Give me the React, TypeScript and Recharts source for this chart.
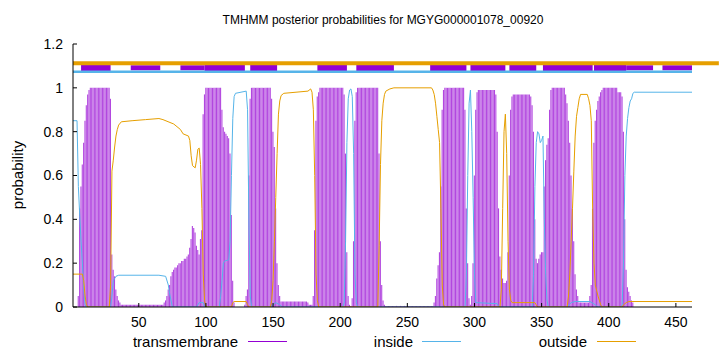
import React from 'react';
import {
  ComposedChart,
  Bar,
  Line,
  XAxis,
  YAxis,
  ReferenceLine,
  ReferenceArea,
} from 'recharts';

const FONT = '"Liberation Sans", Arial, sans-serif';
const PURPLE = '#9400D3';
const BLUE = '#56B4E9';
const ORANGE = '#E69F00';

const seqLength = 462;
const xTicks = [50, 100, 150, 200, 250, 300, 350, 400, 450];
const yTicks = [0, 0.2, 0.4, 0.6, 0.8, 1, 1.2];

// transmembrane posterior, one value per residue (1..462)
const tmProb = [
  0, 0, 0, 0, 0.05, 0.45, 0.55, 0.65, 0.75, 0.85,
  0.92, 0.97, 0.99, 1, 1, 1, 1, 1, 1, 1,
  1, 1, 1, 1, 1, 1, 1, 1, 0.95, 0.24,
  0.17, 0.14, 0.08, 0.05, 0.03, 0.02, 0.01, 0.01, 0.01, 0.01,
  0.01, 0.01, 0.01, 0.01, 0.01, 0.01, 0.01, 0.01, 0.01, 0.01,
  0.01, 0.01, 0.01, 0.01, 0.01, 0.01, 0.01, 0.01, 0.01, 0.01,
  0.01, 0.01, 0.01, 0.01, 0.01, 0.01, 0.01, 0.01, 0.02, 0.03,
  0.05, 0.08, 0.1, 0.14, 0.16, 0.17, 0.18, 0.18, 0.19, 0.2,
  0.2, 0.21, 0.21, 0.22, 0.22, 0.23, 0.24, 0.27, 0.31, 0.37,
  0.36, 0.34, 0.28, 0.26, 0.24, 0.31, 0.35, 0.88, 0.97, 1,
  1, 1, 1, 1, 1, 1, 1, 1, 1, 1,
  1, 0.9, 0.82, 0.8, 0.79, 0.78, 0.77, 0.7, 0.42, 0.12,
  0.02, 0, 0, 0, 0, 0, 0, 0, 0.01, 0.05,
  0.08, 0.6, 0.95, 1, 1, 1, 1, 1, 1, 1,
  1, 1, 1, 1, 1, 1, 1, 1, 0.95, 0.8,
  0.73, 0.45, 0.2, 0.1, 0.05, 0.025, 0.025, 0.025, 0.025, 0.025,
  0.025, 0.025, 0.025, 0.025, 0.025, 0.025, 0.025, 0.025, 0.025, 0.025,
  0.025, 0.025, 0.025, 0.025, 0.025, 0.02, 0.01, 0.01, 0.01, 0.05,
  0.35, 0.85, 0.96, 0.98, 1, 1, 1, 1, 1, 1,
  1, 1, 1, 1, 1, 1, 1, 1, 1, 1,
  1, 1, 0.97, 0.7, 0.25, 0.05, 0.01, 0.005, 0.04, 0.3,
  0.85, 0.98, 1, 1, 1, 1, 1, 1, 1, 1,
  1, 1, 1, 1, 1, 1, 1, 1, 0.7, 0.3,
  0.1, 0.03, 0.01, 0.005, 0.005, 0.005, 0.005, 0.005, 0.005, 0.005,
  0.005, 0.005, 0.005, 0.005, 0.005, 0.005, 0.005, 0.005, 0.005, 0.005,
  0.005, 0.005, 0.005, 0.005, 0.005, 0.005, 0.005, 0.005, 0.005, 0.005,
  0.005, 0.005, 0.005, 0.005, 0.005, 0.005, 0.005, 0.005, 0.005, 0.02,
  0.05, 0.13, 0.19, 0.25, 0.55, 0.9, 0.99, 1, 1, 1,
  1, 1, 1, 1, 1, 1, 1, 1, 1, 1,
  1, 1, 0.9, 0.45, 0.2, 0.04, 0.01, 0.05, 0.2, 0.6,
  0.9, 0.98, 0.99, 0.99, 0.99, 0.99, 0.99, 0.99, 0.99, 0.99,
  0.99, 0.99, 0.99, 0.99, 0.99, 0.97, 0.8, 0.45, 0.23, 0.17,
  0.13, 0.11, 0.11, 0.12, 0.25, 0.6, 0.9, 0.96, 0.97, 0.97,
  0.97, 0.97, 0.97, 0.97, 0.97, 0.97, 0.97, 0.97, 0.97, 0.97,
  0.97, 0.96, 0.92, 0.8, 0.4, 0.22, 0.2, 0.22, 0.24, 0.25,
  0.25, 0.55, 0.67, 0.74, 0.77, 0.9, 0.99, 1, 1, 1,
  1, 1, 1, 1, 1, 1, 1, 0.97, 0.93, 0.85,
  0.75, 0.6, 0.45, 0.3, 0.15, 0.08, 0.05, 0.02, 0.02, 0.02,
  0.02, 0.02, 0.02, 0.02, 0.02, 0.05, 0.1, 0.45, 0.75, 0.85,
  0.9, 0.94, 0.96, 0.98, 0.99, 1, 1, 1, 1, 1,
  1, 1, 1, 1, 1, 1, 0.98, 0.98, 0.98, 0.96,
  0.8, 0.4, 0.17, 0.09, 0.07, 0.05, 0.03, 0.02, 0, 0,
  0, 0, 0, 0, 0, 0, 0, 0, 0, 0,
  0, 0, 0, 0, 0, 0, 0, 0, 0, 0,
  0, 0, 0, 0, 0, 0, 0, 0, 0, 0,
  0, 0, 0, 0, 0, 0, 0, 0, 0, 0,
  0, 0,
];

// [residue, probability] points
const insidePts = [
  [1, 0.85], [4, 0.85], [5, 0.55], [6, 0.42], [7, 0.3], [8, 0.2], [9, 0.08], [10, 0.01], [11, 0],
  [29, 0], [30, 0.05], [31, 0.12], [33, 0.14], [35, 0.145], [65, 0.145], [70, 0.14], [72, 0.1], [73, 0.06], [75, 0],
  [93, 0], [95, 0.02], [98, 0.02], [99, 0],
  [110, 0], [111, 0.05], [112, 0.12], [113, 0.2], [114, 0.21], [117, 0.215], [118, 0.3], [119, 0.6], [120, 0.86],
  [121, 0.96], [122, 0.975], [130, 0.985], [131, 0.9], [132, 0.4], [133, 0.05], [134, 0],
  [148, 0], [150, 0.01], [152, 0.02], [155, 0.01], [157, 0],
  [202, 0], [203, 0.02], [204, 0.3], [205, 0.75], [206, 0.95], [207, 0.99], [208, 0.995], [209, 0.96], [210, 0.7],
  [211, 0.15], [212, 0.02], [213, 0],
  [293, 0], [294, 0.15], [295, 0.6], [296, 0.93], [297, 0.99], [298, 0.8], [299, 0.5], [300, 0.15], [301, 0.02],
  [317, 0.015], [318, 0],
  [343, 0], [344, 0.15], [345, 0.55], [346, 0.75], [347, 0.8], [348, 0.79], [349, 0.75], [350, 0.76], [351, 0.78],
  [352, 0.4], [353, 0.15], [354, 0.03], [355, 0],
  [369, 0], [372, 0.02], [375, 0.025], [386, 0.025], [390, 0.01], [392, 0],
  [409, 0], [410, 0.01], [411, 0.2], [412, 0.6], [413, 0.78], [414, 0.86], [415, 0.91], [416, 0.94], [417, 0.95],
  [418, 0.975], [419, 0.98], [462, 0.98],
];

// [residue, probability] points
const outsidePts = [
  [1, 0.15], [8, 0.15], [9, 0.12], [10, 0.05], [11, 0.01], [12, 0],
  [28, 0], [29, 0.1], [30, 0.62], [31, 0.67], [32, 0.73], [33, 0.78], [34, 0.81], [35, 0.83], [37, 0.845],
  [45, 0.85], [55, 0.855], [65, 0.86], [68, 0.855], [76, 0.835], [81, 0.81], [83, 0.79], [87, 0.78], [88, 0.76],
  [89, 0.69], [90, 0.645], [92, 0.635], [93, 0.67], [94, 0.72], [95, 0.725], [96, 0.65], [97, 0.45], [98, 0.15],
  [99, 0.03], [100, 0],
  [119, 0], [120, 0.02], [121, 0.025], [130, 0.025], [131, 0.01], [132, 0],
  [148, 0], [149, 0.03], [150, 0.12], [151, 0.3], [152, 0.5], [153, 0.7], [154, 0.88], [155, 0.94], [156, 0.965],
  [158, 0.975], [176, 0.985], [178, 0.995], [179, 0.98], [180, 0.9], [181, 0.6], [182, 0.15], [183, 0.03], [184, 0],
  [228, 0], [229, 0.28], [230, 0.65], [231, 0.85], [232, 0.93], [233, 0.97], [234, 0.985], [237, 0.995], [240, 1],
  [268, 1], [269, 0.99], [270, 0.97], [271, 0.93], [272, 0.87], [273, 0.81], [274, 0.75], [275, 0.45], [276, 0.1],
  [277, 0.01], [278, 0],
  [319, 0], [320, 0.08], [321, 0.45], [322, 0.8], [323, 0.88], [324, 0.7], [325, 0.3], [326, 0.08], [327, 0.03],
  [328, 0.02], [345, 0.02], [346, 0.01], [347, 0],
  [369, 0], [370, 0.05], [371, 0.15], [372, 0.3], [373, 0.45], [374, 0.62], [375, 0.78], [376, 0.87], [377, 0.91],
  [378, 0.95], [379, 0.97], [384, 0.97], [385, 0.95], [386, 0.92], [387, 0.85], [388, 0.45], [389, 0.2], [390, 0.1],
  [392, 0.05], [394, 0.01], [395, 0],
  [410, 0], [411, 0.01], [413, 0.02], [415, 0.025], [462, 0.025],
];

// topology strip along the top: residue ranges
const outsideStrip = [1, 482];
const insideStrip = [1, 462];
const tmBoxes = [
  [7, 29], [99, 129], [133, 153], [183, 205], [212, 240], [267, 294],
  [297, 323], [326, 346], [351, 388], [389, 413],
];
const tmThinBoxes = [[44, 66], [81, 99], [413, 433], [440, 462]];

const insideMap = new Map(insidePts.map(([r, v]) => [r, v]));
const outsideMap = new Map(outsidePts.map(([r, v]) => [r, v]));

const rows = tmProb.map((tm, i) => {
  const pos = i + 1;
  return {
    pos,
    tm,
    inside: insideMap.has(pos) ? insideMap.get(pos) : null,
    outside: outsideMap.has(pos) ? outsideMap.get(pos) : null,
  };
});

const tickStyle = { fontSize: 14, fill: '#000', fontFamily: FONT };

export default function App() {
  return (
    <div style={{ position: 'absolute', left: 0, top: 0, width: 720, height: 352, background: '#fff' }}>
      <ComposedChart
        width={720}
        height={352}
        data={rows}
        margin={{ top: 44, right: 28, bottom: 15, left: 0 }}
        barGap={0}
        barCategoryGap={0}
      >
        <XAxis
          xAxisId="b"
          dataKey="pos"
          type="number"
          domain={[1, seqLength]}
          ticks={xTicks}
          height={30}
          tickSize={-4}
          tickMargin={14}
          axisLine={{ stroke: '#000' }}
          tickLine={{ stroke: '#000' }}
          tick={tickStyle}
          allowDataOverflow
        />
        <XAxis
          xAxisId="t"
          orientation="top"
          dataKey="pos"
          type="number"
          domain={[1, seqLength]}
          ticks={xTicks}
          height={0}
          tickSize={-4}
          tick={false}
          axisLine={{ stroke: '#000' }}
          tickLine={{ stroke: '#000' }}
          allowDataOverflow
        />
        <YAxis
          yAxisId="l"
          type="number"
          domain={[0, 1.2]}
          ticks={yTicks}
          width={73}
          tickSize={-4}
          tickMargin={14}
          axisLine={{ stroke: '#000' }}
          tickLine={{ stroke: '#000' }}
          tick={tickStyle}
          allowDataOverflow
        />
        <YAxis
          yAxisId="r"
          orientation="right"
          type="number"
          domain={[0, 1.2]}
          ticks={yTicks}
          width={0}
          tickSize={-4}
          tick={false}
          axisLine={{ stroke: '#000' }}
          tickLine={{ stroke: '#000' }}
          allowDataOverflow
        />

        <Bar
          xAxisId="b"
          yAxisId="l"
          dataKey="tm"
          fill={PURPLE}
          fillOpacity={0.72}
          barSize={1.1}
          isAnimationActive={false}
        />
        <Line
          xAxisId="b"
          yAxisId="l"
          type="linear"
          dataKey="inside"
          stroke={BLUE}
          strokeWidth={1}
          dot={false}
          connectNulls
          isAnimationActive={false}
        />
        <Line
          xAxisId="b"
          yAxisId="l"
          type="linear"
          dataKey="outside"
          stroke={ORANGE}
          strokeWidth={1}
          dot={false}
          connectNulls
          isAnimationActive={false}
        />

        <ReferenceLine
          xAxisId="b"
          yAxisId="l"
          segment={[{ x: outsideStrip[0], y: 1.112 }, { x: outsideStrip[1], y: 1.112 }]}
          stroke={ORANGE}
          strokeWidth={4}
          ifOverflow="visible"
        />
        <ReferenceLine
          xAxisId="b"
          yAxisId="l"
          segment={[{ x: insideStrip[0], y: 1.073 }, { x: insideStrip[1], y: 1.073 }]}
          stroke={BLUE}
          strokeWidth={2.5}
          ifOverflow="visible"
        />
        {tmThinBoxes.map(([a, b]) => (
          <ReferenceArea
            key={`thin-${a}`}
            xAxisId="b"
            yAxisId="l"
            x1={a}
            x2={b}
            y1={1.08}
            y2={1.103}
            fill={PURPLE}
            fillOpacity={1}
            stroke="none"
            ifOverflow="visible"
          />
        ))}
        {tmBoxes.map(([a, b]) => (
          <ReferenceArea
            key={`box-${a}`}
            xAxisId="b"
            yAxisId="l"
            x1={a}
            x2={b}
            y1={1.069}
            y2={1.118}
            fill={PURPLE}
            fillOpacity={1}
            stroke="none"
            ifOverflow="visible"
          />
        ))}
      </ComposedChart>

      <svg
        width={720}
        height={352}
        style={{ position: 'absolute', left: 0, top: 0, pointerEvents: 'none' }}
        fontFamily={FONT}
        fontSize={15}
      >
        <text x={383} y={20} fontSize={12} textAnchor="middle" dominantBaseline="central" fill="#000">
          TMHMM posterior probabilities for MGYG000001078_00920
        </text>
        <text
          x={17}
          y={175}
          textAnchor="middle"
          dominantBaseline="central"
          fill="#000"
          transform="rotate(-90 17 175)"
        >
          probability
        </text>
        <text x={238} y={341} textAnchor="end" dominantBaseline="central" fill="#000">transmembrane</text>
        <line x1={248} x2={287} y1={341.5} y2={341.5} stroke={PURPLE} strokeWidth={1} />
        <text x={413} y={341} textAnchor="end" dominantBaseline="central" fill="#000">inside</text>
        <line x1={422} x2={461} y1={341.5} y2={341.5} stroke={BLUE} strokeWidth={1} />
        <text x={587} y={341} textAnchor="end" dominantBaseline="central" fill="#000">outside</text>
        <line x1={597} x2={636} y1={341.5} y2={341.5} stroke={ORANGE} strokeWidth={1} />
      </svg>
    </div>
  );
}
